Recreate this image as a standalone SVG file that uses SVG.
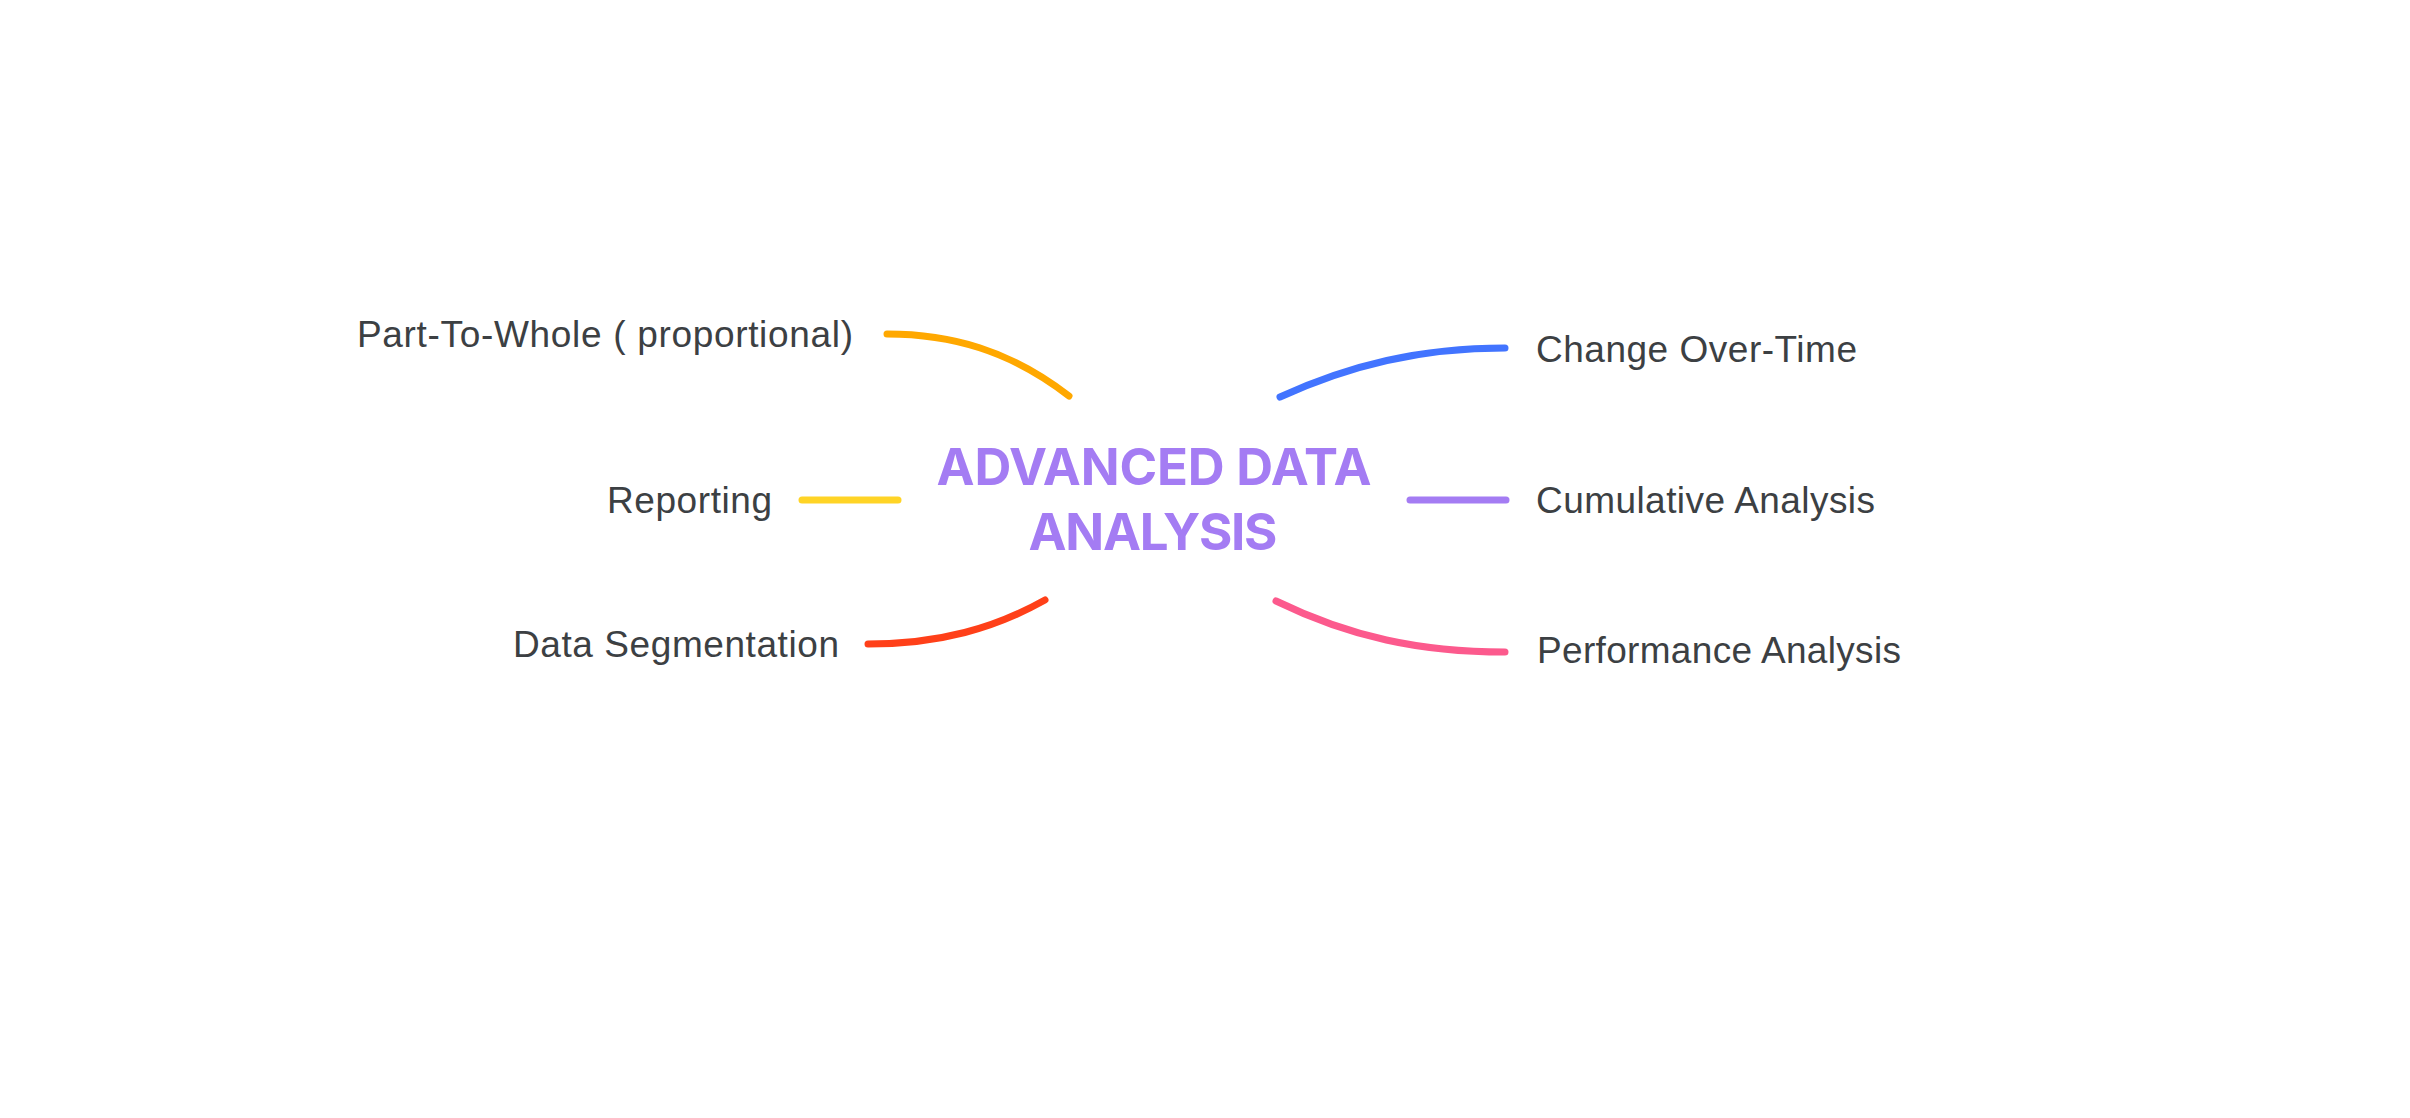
<svg xmlns="http://www.w3.org/2000/svg" width="2410" height="1118" viewBox="0 0 2410 1118">
<style>
.lbl{font-family:"Liberation Sans",Arial,sans-serif;font-size:37px;fill:#3c4043}
.title{font-family:"Inter","Liberation Sans",sans-serif;font-weight:700;font-size:51px;fill:#a47cf3;text-anchor:middle}
.edge{fill:none;stroke-width:7;stroke-linecap:round}
</style>
<rect width="2410" height="1118" fill="#ffffff"/>
<g id="connectors">
<path class="edge" stroke="#ffa800" d="M887 334 C950 334 1010 350 1069 396"/>
<path class="edge" stroke="#ffd426" d="M802 500 L898 500"/>
<path class="edge" stroke="#ff4019" d="M868 644 C940 644 995 628 1045 600"/>
<path class="edge" stroke="#4274ff" d="M1280 397 C1350 365 1420 348 1505 348"/>
<path class="edge" stroke="#a47cf3" d="M1410 500 L1506 500"/>
<path class="edge" stroke="#fc5a8d" d="M1276 601 C1350 637 1420 652 1505 652"/>
</g>
<g id="center">
<text class="title" x="1154" y="485" textLength="435">ADVANCED DATA</text>
<text class="title" x="1153" y="550" textLength="249">ANALYSIS</text>
</g>
<g id="part-to-whole"><text class="lbl" x="357" y="347" textLength="496">Part-To-Whole ( proportional)</text></g>
<g id="reporting"><text class="lbl" x="607" y="513" textLength="165">Reporting</text></g>
<g id="data-segmentation"><text class="lbl" x="513" y="657" textLength="326">Data Segmentation</text></g>
<g id="change-over-time"><text class="lbl" x="1536" y="362" textLength="321">Change Over-Time</text></g>
<g id="cumulative-analysis"><text class="lbl" x="1536" y="513" textLength="339">Cumulative Analysis</text></g>
<g id="performance-analysis"><text class="lbl" x="1537" y="663" textLength="364">Performance Analysis</text></g>
</svg>
